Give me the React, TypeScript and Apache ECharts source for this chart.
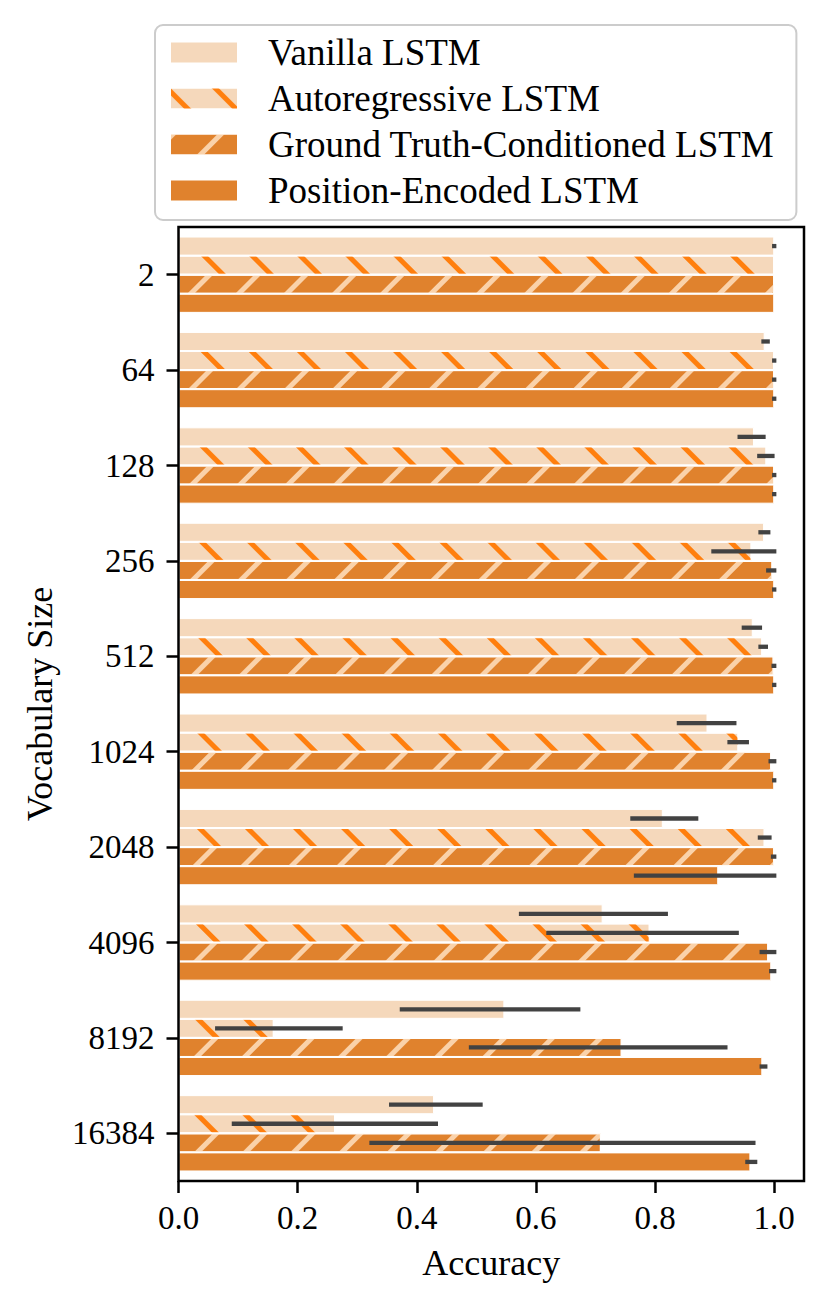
import React, { useEffect, useRef } from "react";
import * as echarts from "echarts";

const categories = ["2", "64", "128", "256", "512", "1024", "2048", "4096", "8192", "16384"];
const seriesNames = [
  "Vanilla LSTM",
  "Autoregressive LSTM",
  "Ground Truth-Conditioned LSTM",
  "Position-Encoded LSTM",
];

const vanilla = [1.0, 0.984, 0.966, 0.983, 0.964, 0.888, 0.813, 0.712, 0.547, 0.429];
const vanillaLo = [1.0, 0.982, 0.942, 0.977, 0.949, 0.84, 0.762, 0.575, 0.375, 0.357];
const vanillaHi = [1.0, 0.989, 0.982, 0.99, 0.976, 0.933, 0.869, 0.818, 0.671, 0.507];

const autoreg = [1.0, 1.0, 0.987, 0.962, 0.98, 0.94, 0.984, 0.791, 0.16, 0.263];
const autoregLo = [null, 1.0, 0.975, 0.898, 0.977, 0.925, 0.976, 0.621, 0.065, 0.093];
const autoregHi = [null, 1.0, 0.997, 1.0, 0.986, 0.954, 0.992, 0.937, 0.272, 0.432];

const groundTruth = [1.0, 1.0, 1.0, 0.997, 0.999, 0.995, 1.0, 0.99, 0.744, 0.709];
const groundTruthLo = [null, 1.0, 1.0, 0.99, 0.999, 0.994, 0.998, 0.979, 0.491, 0.324];
const groundTruthHi = [null, 1.0, 1.0, 1.0, 1.0, 1.0, 1.0, 1.0, 0.918, 0.965];

const posEnc = [1.0, 1.0, 1.0, 1.0, 1.0, 1.0, 0.906, 0.995, 0.98, 0.96];
const posEncLo = [null, 1.0, 1.0, 1.0, 1.0, 1.0, 0.768, 0.995, 0.979, 0.955];
const posEncHi = [null, 1.0, 1.0, 1.0, 1.0, 1.0, 1.0, 1.0, 0.985, 0.968];

const xTicks = [0, 0.2, 0.4, 0.6, 0.8, 1.0];

const LIGHT = "#f5d8bb";
const DARK = "#e0822d";
const HATCH_DARK = "#ff7f0e";
const HATCH_LIGHT = "#fad2aa";
const FONT = "Liberation Serif";

export default function App() {
  const ref = useRef<HTMLDivElement>(null);

  useEffect(() => {
    if (!ref.current) return;
    const chart = echarts.init(ref.current, null, { renderer: "svg" });

    const values = [vanilla, autoreg, groundTruth, posEnc];
    const los = [vanillaLo, autoregLo, groundTruthLo, posEncLo];
    const his = [vanillaHi, autoregHi, groundTruthHi, posEncHi];

    const errData: any[] = [];
    for (let k = 0; k < 4; k++) {
      for (let i = 0; i < categories.length; i++) {
        const lo = los[k][i];
        const hi = his[k][i];
        if (lo == null || hi == null) continue;
        errData.push([lo, hi, i, k]);
      }
    }

    const hatch = (rotation: number, color: string) => ({
      symbol: "rect",
      symbolSize: 1,
      dashArrayX: [1, 0],
      dashArrayY: [5, 29],
      rotation,
      color,
    });

    const styles = [
      { color: LIGHT },
      { color: LIGHT, decal: hatch(Math.PI / 4, HATCH_DARK) },
      { color: DARK, decal: hatch(-Math.PI / 4, HATCH_LIGHT) },
      { color: DARK },
    ];

    const barSeries = seriesNames.map((name, k) => ({
      name,
      type: "bar",
      data: values[k],
      barGap: "0%",
      barCategoryGap: "20%",
      itemStyle: { ...styles[k], borderColor: "#ffffff", borderWidth: 1 },
      emphasis: { disabled: true },
      z: 2,
    }));

    const option: any = {
      animation: false,
      textStyle: { fontFamily: FONT },
      grid: {
        left: 178.5,
        top: 227,
        width: 625.5,
        height: 954,
        show: true,
        borderColor: "#000",
        borderWidth: 2.5,
        backgroundColor: "transparent",
        z: 10,
      },
      legend: {
        data: seriesNames,
        orient: "vertical",
        left: 155,
        top: 25,
        itemWidth: 68,
        itemHeight: 22,
        itemGap: 9,
        icon: "rect",
        selectedMode: false,
        padding: [9, 22, 11, 14],
        borderColor: "#cccccc",
        borderWidth: 2,
        borderRadius: 8,
        backgroundColor: "#ffffff",
        textStyle: {
          fontFamily: FONT,
          fontSize: 37,
          lineHeight: 36,
          color: "#000",
          padding: [0, 0, 0, 25],
        },
      },
      xAxis: {
        type: "value",
        min: 0,
        max: 1.05,
        interval: 0.2,
        name: "Accuracy",
        nameLocation: "middle",
        nameGap: 64,
        nameTextStyle: { fontFamily: FONT, fontSize: 36, color: "#000" },
        splitLine: { show: false },
        axisLine: { show: false },
        axisTick: {
          show: true,
          length: 12,
          customValues: xTicks,
          lineStyle: { color: "#000", width: 2.5 },
        },
        axisLabel: {
          customValues: xTicks,
          fontFamily: FONT,
          fontSize: 33,
          color: "#000",
          margin: 20,
          formatter: (v: number) => v.toFixed(1),
        },
      },
      yAxis: {
        type: "category",
        data: categories,
        inverse: true,
        name: "Vocabulary Size",
        nameLocation: "middle",
        nameGap: 121,
        nameRotate: 90,
        nameTextStyle: { fontFamily: FONT, fontSize: 36, color: "#000" },
        axisLine: { show: false },
        axisTick: {
          show: true,
          alignWithLabel: true,
          length: 12,
          lineStyle: { color: "#000", width: 2.5 },
        },
        axisLabel: {
          fontFamily: FONT,
          fontSize: 33,
          color: "#000",
          margin: 24,
        },
        splitLine: { show: false },
      },
      series: [
        ...barSeries,
        {
          name: "ci",
          type: "custom",
          data: errData,
          encode: { x: [0, 1], y: 2 },
          z: 5,
          silent: true,
          renderItem: (params: any, api: any) => {
            const lo = api.value(0);
            const hi = api.value(1);
            const cat = api.value(2);
            const k = api.value(3);
            const p1 = api.coord([lo, cat]);
            const p2 = api.coord([hi, cat]);
            const band = api.size([0, 1])[1];
            const y = p1[1] + (k - 1.5) * 0.2 * band;
            const w = 4.3;
            const x0 = Math.min(p1[0], p2[0]) - w / 2;
            const x1 = Math.max(p1[0], p2[0]) + w / 2;
            return {
              type: "rect",
              shape: { x: x0, y: y - w / 2, width: x1 - x0, height: w },
              style: { fill: "#424242" },
            };
          },
        },
      ],
    };

    chart.setOption(option);
    return () => chart.dispose();
  }, []);

  return (
    <div
      ref={ref}
      style={{ position: "absolute", left: 0, top: 0, width: 829, height: 1304 }}
    />
  );
}
